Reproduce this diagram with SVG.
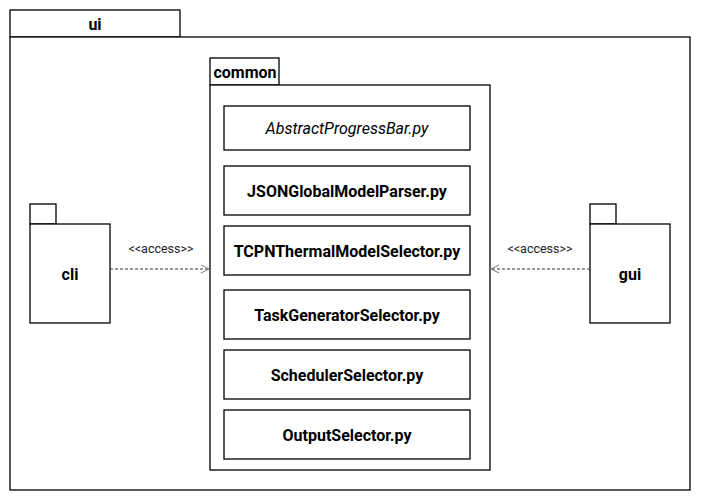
<svg xmlns="http://www.w3.org/2000/svg" width="701" height="501" viewBox="0 0 701 501">
<style>
.box{fill:#fff;stroke:#000;stroke-width:1.3}
.t{font-family:Roboto,"Liberation Sans",sans-serif;font-weight:bold;font-size:16px;fill:#000;text-anchor:middle;dominant-baseline:central}
.ti{font-family:Roboto,"Liberation Sans",sans-serif;font-style:italic;font-size:16px;fill:#000;text-anchor:middle;dominant-baseline:central}
.lbl{font-family:Roboto,"Liberation Sans",sans-serif;font-size:12.5px;fill:#222;text-anchor:middle;dominant-baseline:central}
.dep{stroke:#333;stroke-width:1;stroke-dasharray:3,2;fill:none}
.head{stroke:#777;stroke-width:1;fill:none}
</style>
<rect width="701" height="501" fill="#fff"/>
<g id="ui">
<rect class="box" x="10" y="10" width="170" height="27"/>
<rect class="box" x="10" y="37" width="680" height="453"/>
<text class="t" x="95" y="24">ui</text>
</g>
<g id="common">
<rect class="box" x="210" y="58" width="69" height="27"/>
<rect class="box" x="210" y="85" width="280" height="385"/>
<text class="t" x="245" y="72">common</text>
</g>
<g id="AbstractProgressBar">
<rect class="box" x="224" y="106" width="246" height="44"/>
<text class="ti" x="347" y="128">AbstractProgressBar.py</text>
</g>
<g id="JSONGlobalModelParser">
<rect class="box" x="224" y="166" width="246" height="49"/>
<text class="t" x="347" y="191">JSONGlobalModelParser.py</text>
</g>
<g id="TCPNThermalModelSelector">
<rect class="box" x="224" y="226" width="246" height="49"/>
<text class="t" x="347" y="251">TCPNThermalModelSelector.py</text>
</g>
<g id="TaskGeneratorSelector">
<rect class="box" x="224" y="290" width="246" height="49"/>
<text class="t" x="347" y="315">TaskGeneratorSelector.py</text>
</g>
<g id="SchedulerSelector">
<rect class="box" x="224" y="350" width="246" height="49"/>
<text class="t" x="347" y="375">SchedulerSelector.py</text>
</g>
<g id="OutputSelector">
<rect class="box" x="224" y="410" width="246" height="49"/>
<text class="t" x="347" y="435">OutputSelector.py</text>
</g>
<g id="cli">
<rect class="box" x="30" y="204" width="26" height="20"/>
<rect class="box" x="30" y="224" width="80" height="99"/>
<text class="t" x="70" y="274">cli</text>
</g>
<g id="gui">
<rect class="box" x="590" y="204" width="26" height="20"/>
<rect class="box" x="590" y="224" width="80" height="99"/>
<text class="t" x="630" y="274">gui</text>
</g>
<g id="connectors">
<path class="dep" d="M110 269 H209"/>
<path class="head" d="M201 265 L209 269 L201 273"/>
<text class="lbl" x="161" y="248">&lt;&lt;access&gt;&gt;</text>
<path class="dep" d="M590 269 H491"/>
<path class="head" d="M499 265 L491 269 L499 273"/>
<text class="lbl" x="540" y="248">&lt;&lt;access&gt;&gt;</text>
</g>
</svg>
